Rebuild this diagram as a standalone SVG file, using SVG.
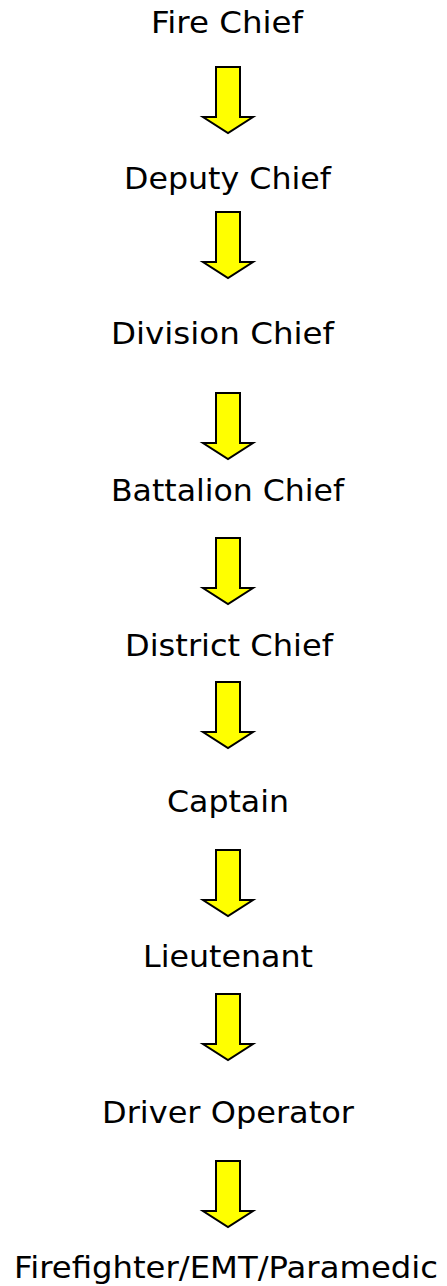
<svg xmlns="http://www.w3.org/2000/svg" width="447" height="1286" viewBox="0 0 447 1286">
<defs>
<style>
.lbl{font-family:"DejaVu Sans","Liberation Sans",sans-serif;font-size:30px;fill:#000;text-anchor:middle}
.arr{fill:#ffff00;stroke:#000;stroke-width:2;stroke-linejoin:miter}
</style>
<path id="arrow" class="arr" d="M216,0 H240 V50 H253 L228,66 L203,50 H216 Z"/>
</defs>
<rect width="447" height="1286" fill="#fff"/>
<g id="connectors">
<use href="#arrow" y="67"/>
<use href="#arrow" y="212"/>
<use href="#arrow" y="393"/>
<use href="#arrow" y="538"/>
<use href="#arrow" y="682"/>
<use href="#arrow" y="850"/>
<use href="#arrow" y="994"/>
<use href="#arrow" y="1161"/>
</g>
<g id="fire-chief"><text class="lbl" x="227" y="33" textLength="152" lengthAdjust="spacingAndGlyphs">Fire Chief</text></g>
<g id="deputy-chief"><text class="lbl" x="227.5" y="189" textLength="207" lengthAdjust="spacingAndGlyphs">Deputy Chief</text></g>
<g id="division-chief"><text class="lbl" x="222.5" y="344" textLength="223" lengthAdjust="spacingAndGlyphs">Division Chief</text></g>
<g id="battalion-chief"><text class="lbl" x="227.5" y="501" textLength="233" lengthAdjust="spacingAndGlyphs">Battalion Chief</text></g>
<g id="district-chief"><text class="lbl" x="229" y="656" textLength="208" lengthAdjust="spacingAndGlyphs">District Chief</text></g>
<g id="captain"><text class="lbl" x="228" y="812" textLength="122" lengthAdjust="spacingAndGlyphs">Captain</text></g>
<g id="lieutenant"><text class="lbl" x="228" y="967" textLength="170" lengthAdjust="spacingAndGlyphs">Lieutenant</text></g>
<g id="driver-operator"><text class="lbl" x="228" y="1123" textLength="252" lengthAdjust="spacingAndGlyphs">Driver Operator</text></g>
<g id="firefighter"><text class="lbl" x="226" y="1278" textLength="424" lengthAdjust="spacingAndGlyphs">Firefighter/EMT/Paramedic</text></g>
</svg>
